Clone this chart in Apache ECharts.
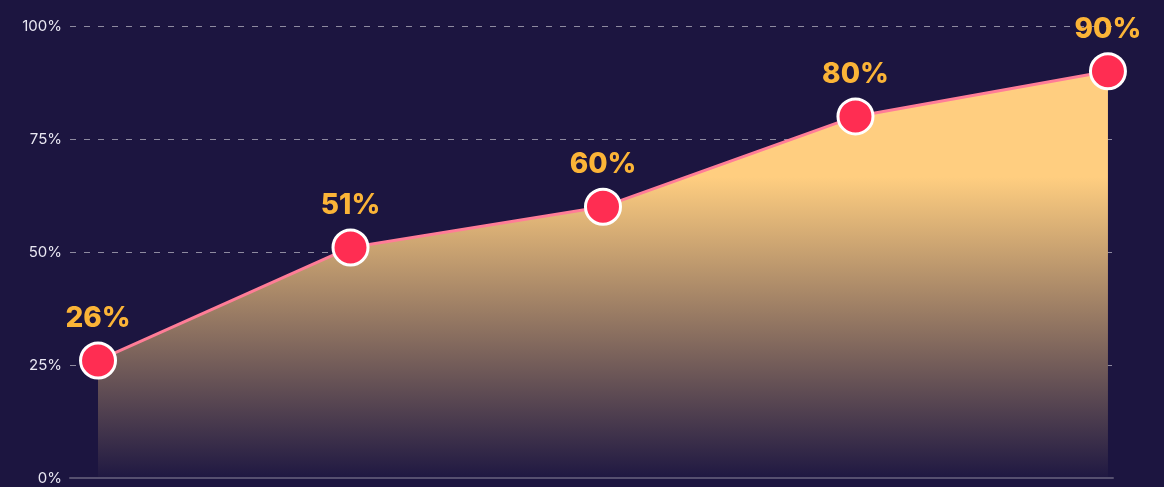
<!DOCTYPE html>
<html>
<head>
<meta charset="utf-8">
<script src="https://cdn.jsdelivr.net/npm/echarts@6/dist/echarts.min.js"></script>
<style>
  html, body { margin: 0; padding: 0; background: #1c1540; }
  #chart { width: 1164px; height: 487px; }
</style>
</head>
<body>
<div id="chart"></div>
<script>
const categories = ['Stage 1', 'Stage 2', 'Stage 3', 'Stage 4', 'Stage 5'];
const values = [26, 51, 60, 80, 90];
const yTicks = [0, 25, 50, 75, 100];

const chart = echarts.init(document.getElementById('chart'), null, { renderer: 'canvas' });
chart.setOption({
  backgroundColor: '#1c1540',
  animation: false,
  grid: { left: 70, right: 51, top: 26, bottom: 9, containLabel: false },
  xAxis: {
    type: 'value',
    min: -0.111,
    max: 4.02,
    zlevel: 6,
    z: 1,
    axisLine: { show: true, onZero: false, lineStyle: { color: '#56506f', width: 2 } },
    axisTick: { show: false },
    axisLabel: { show: false },
    splitLine: { show: false }
  },
  yAxis: {
    type: 'value',
    min: yTicks[0],
    max: yTicks[yTicks.length - 1],
    interval: 25,
    axisLine: { show: false },
    axisTick: { show: false },
    axisLabel: {
      formatter: '{value}%',
      color: '#e9e7f2',
      fontFamily: 'Inter',
      fontSize: 15,
      margin: 8
    },
    splitLine: { show: false }
  },
  series: [{
    type: 'line',
    data: [],
    zlevel: 0,
    z: 1,
    silent: true,
    markLine: {
      zlevel: 0,
      z: 1,
      silent: true,
      symbol: 'none',
      label: { show: false },
      lineStyle: { color: 'rgba(255,255,255,0.5)', type: [6, 8], width: 1 },
      data: yTicks.filter(v => v > 0).map(v => ({ yAxis: v }))
    }
  }, {
    type: 'line',
    data: categories.map((c, i) => [i, values[i]]),
    symbol: 'circle',
    symbolSize: 35,
    zlevel: 5,
    z: 10,
    itemStyle: { color: '#ff2d52', borderColor: '#ffffff', borderWidth: 3 },
    lineStyle: { color: '#ff7d97', width: 3 },
    areaStyle: {
      opacity: 1,
      color: {
        type: 'linear', x: 0, y: 0, x2: 0, y2: 1,
        colorStops: [
          { offset: 0, color: '#ffce80' },
          { offset: 0.26, color: '#ffce80' },
          { offset: 1, color: '#1f1842' }
        ]
      }
    },
    label: {
      show: true,
      position: 'top',
      distance: 9,
      formatter: p => p.value[1] + '%',
      color: '#fbb437',
      fontFamily: 'Inter',
      fontWeight: 800,
      fontSize: 28
    }
  }]
});
</script>
</body>
</html>
